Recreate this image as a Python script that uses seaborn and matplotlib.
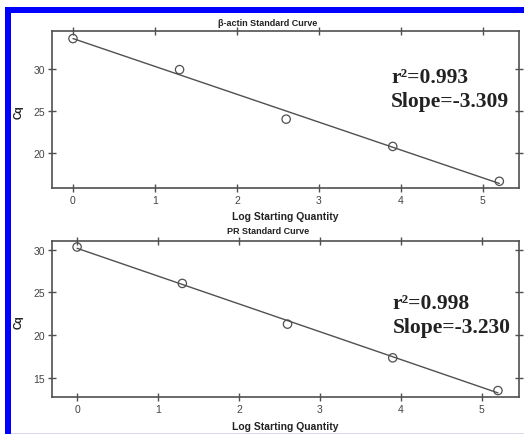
import matplotlib
matplotlib.use("Agg")
import matplotlib.pyplot as plt
from matplotlib.patches import Rectangle
import seaborn as sns
import pandas as pd

# ---- data ----
log_qty = [0.0, 1.3, 2.6, 3.9, 5.2]
actin_cq = [33.6, 29.9, 24.0, 20.75, 16.6]
pr_cq = [30.3, 26.05, 21.3, 17.37, 13.55]
titles = ["β-actin Standard Curve", "PR Standard Curve"]
stats = [("r²=0.993", "Slope=-3.309"), ("r²=0.998", "Slope=-3.230")]
xticks = [0, 1, 2, 3, 4, 5]
yticks_actin = [20, 25, 30]
yticks_pr = [15, 20, 25, 30]

sns.set_style("white")
plt.rcParams['font.family'] = ['Liberation Sans', 'DejaVu Sans']

W, H = 524, 435
fig = plt.figure(figsize=(W / 100, H / 100), dpi=100)

def frac_rect(left, top, right, bottom):
    return [left / W, (H - bottom) / H, (right - left) / W, (bottom - top) / H]

panels = [
    dict(rect=frac_rect(52, 32, 519, 189), y=actin_cq, ylim=(15.8, 34.5), xlim=(-0.256, 5.44),
         yticks=yticks_actin, title=titles[0], stats=stats[0], title_y=23, xlab_y=217, cq_y=112,
         ty=(0.675, 0.522), tx=0.726),
    dict(rect=frac_rect(52, 242, 519, 398), y=pr_cq, ylim=(12.8, 31.0), xlim=(-0.31, 5.46),
         yticks=yticks_pr, title=titles[1], stats=stats[1], title_y=232, xlab_y=427, cq_y=322,
         ty=(0.57, 0.417), tx=0.729),
]

grey = "#505050"
for p in panels:
    ax = fig.add_axes(p["rect"])
    df = pd.DataFrame({"x": log_qty, "y": p["y"]})
    sns.regplot(data=df, x="x", y="y", ax=ax, ci=None, truncate=True,
                scatter_kws=dict(facecolors="none", edgecolors=grey, s=36, linewidths=0.9, alpha=1, zorder=3),
                line_kws=dict(color=grey, lw=1.0))
    ax.set_xlim(*p["xlim"])
    ax.set_ylim(*p["ylim"])
    ax.set_xticks(xticks)
    ax.set_yticks(p["yticks"])
    ax.set_xlabel("")
    ax.set_ylabel("")
    ax.tick_params(which="both", direction="inout", length=6, width=1.0, color=grey,
                   top=True, right=True, bottom=True, left=True,
                   labeltop=False, labelright=False, labelbottom=True, labelleft=True,
                   labelsize=7.5, labelcolor="#444444", pad=2)
    for s in ax.spines.values():
        s.set_color(grey)
        s.set_linewidth(1.2)
    ax.text(p["tx"], p["ty"][0], p["stats"][0], transform=ax.transAxes,
            family="Liberation Serif", weight="bold", fontsize=15.5, color="#222222", va="baseline")
    ax.text(p["tx"], p["ty"][1], p["stats"][1], transform=ax.transAxes,
            family="Liberation Serif", weight="bold", fontsize=15.5, color="#222222", va="baseline")
    fig.text(268 / W, 1 - p["title_y"] / H, p["title"], ha="center", va="center",
             fontsize=6.5, weight="bold", color="#222222")
    fig.text(285 / W, 1 - p["xlab_y"] / H, "Log Starting Quantity", ha="center", va="center",
             fontsize=7.5, weight="bold", color="#222222")
    fig.text(19 / W, 1 - p["cq_y"] / H, "Cq", ha="center", va="center", rotation=90,
             fontsize=7.5, weight="bold", color="#222222")

# blue frame
blue = "#0000ff"
fig.patches.append(Rectangle((5 / W, 0), 6 / W, (H - 8) / H, transform=fig.transFigure,
                             facecolor=blue, edgecolor="none", zorder=10))
fig.patches.append(Rectangle((5 / W, (H - 14) / H), (W - 5) / W, 6 / H, transform=fig.transFigure,
                             facecolor=blue, edgecolor="none", zorder=10))
fig.patches.append(Rectangle((11 / W, 0), (W - 11) / W, 1.5 / H, transform=fig.transFigure,
                             facecolor="#d8d8f0", edgecolor="none", zorder=10))

fig.savefig("out.png", dpi=100)
